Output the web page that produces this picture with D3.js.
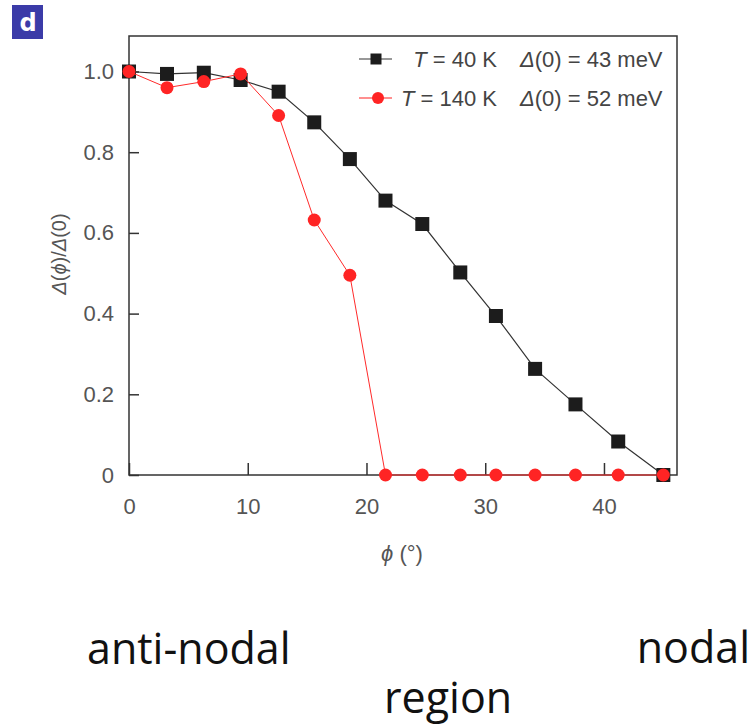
<!DOCTYPE html>
<html>
<head>
<meta charset="utf-8">
<script src="https://cdn.jsdelivr.net/npm/d3@7"></script>
<style>
  body { margin: 0; background: #fff; }
  text { font-family: "Liberation Sans", Arial, sans-serif; }
</style>
</head>
<body>
<div id="graf"></div>
<script>
// Datos
var phi = [0, 3.2, 6.3, 9.4, 12.6, 15.6, 18.6, 21.6, 24.7, 27.9, 30.9, 34.2, 37.6, 41.2, 45];
var gap40 = [1.0, 0.994, 0.997, 0.979, 0.950, 0.874, 0.783, 0.680, 0.622, 0.502, 0.394, 0.263, 0.175, 0.083, 0.0];
var gap140 = [1.0, 0.960, 0.975, 0.994, 0.891, 0.632, 0.495, 0, 0, 0, 0, 0, 0, 0, 0];
var xTicks = [0, 10, 20, 30, 40];
var yTicks = [0, 0.2, 0.4, 0.6, 0.8, 1.0];
var seriesT = ["40 K", "140 K"];
var seriesGap = ["43 meV", "52 meV"];

var ancho_total = 755, alto_total = 728;
var margins = { top: 36, left: 129, right: 78, bottom: 253 };
var ancho = ancho_total - margins.left - margins.right;
var alto = alto_total - margins.top - margins.bottom;

var svg = d3.select("#graf").append("svg")
  .attr("width", ancho_total)
  .attr("height", alto_total);

// etiqueta del panel
svg.append("rect")
  .attr("x", 12).attr("y", 5).attr("width", 31).attr("height", 34)
  .attr("fill", "#3b3ba8");
svg.append("text")
  .attr("x", 28).attr("y", 31)
  .attr("text-anchor", "middle")
  .attr("fill", "#fff")
  .style("font-family", "DejaVu Sans")
  .style("font-weight", "bold")
  .style("font-size", "24px")
  .text("d");

var g = svg.append("g")
  .attr("transform", `translate(${margins.left}, ${margins.top})`);

// Escaladores
var x = d3.scaleLinear().domain([0, 46.15]).range([0, ancho]);
var y = d3.scaleLinear().domain([0, 1.088]).range([alto, 0]);

// Ejes
var fmtY = (d) => (d === 0 ? "0" : d3.format(".1f")(d));
var yAxis = g.append("g")
  .call(d3.axisLeft(y).tickValues(yTicks).tickFormat(fmtY)
    .tickSizeInner(-10).tickSizeOuter(0).tickPadding(15));
var xAxis = g.append("g")
  .attr("transform", `translate(0, ${alto})`)
  .call(d3.axisBottom(x).tickValues(xTicks).tickFormat(d3.format("d"))
    .tickSizeInner(-12).tickSizeOuter(0).tickPadding(23));

[xAxis, yAxis].forEach((a) => {
  a.select(".domain").remove();
  a.selectAll("line").attr("stroke", "#333").attr("stroke-width", 1.5);
  a.selectAll("text")
    .attr("fill", "#555")
    .style("font-size", "22px");
});

// marco
g.append("rect")
  .attr("width", ancho).attr("height", alto)
  .attr("fill", "none")
  .attr("stroke", "#333")
  .attr("stroke-width", 1.5);

// titulos de ejes
var yt = svg.append("text")
  .attr("transform", "translate(66, 254) rotate(-90)")
  .attr("text-anchor", "middle")
  .attr("fill", "#555")
  .style("font-size", "20px");
yt.append("tspan").style("font-style", "italic").text("\u0394");
yt.append("tspan").text("(");
yt.append("tspan").style("font-style", "italic").text("\u03d5");
yt.append("tspan").text(")/");
yt.append("tspan").style("font-style", "italic").text("\u0394");
yt.append("tspan").text("(0)");

var xt = svg.append("text")
  .attr("x", 402).attr("y", 561)
  .attr("text-anchor", "middle")
  .attr("fill", "#555")
  .style("font-size", "22px");
xt.append("tspan").style("font-style", "italic").text("\u03d5");
xt.append("tspan").text(" (\u00b0)");

// Generador de lineas
var lineaGen = (vals) => d3.line()
  .x((d, i) => x(phi[i]))
  .y((d) => y(d))(vals);

g.append("path")
  .attr("d", lineaGen(gap40))
  .attr("fill", "none")
  .attr("stroke", "#333")
  .attr("stroke-width", 1.2);

g.selectAll(".sq")
  .data(gap40)
  .enter().append("path")
  .attr("class", "sq")
  .attr("transform", (d, i) => `translate(${x(phi[i])}, ${y(d)})`)
  .attr("d", d3.symbol(d3.symbolSquare, 196))
  .attr("fill", "#1c1c1c");

g.append("path")
  .attr("d", lineaGen(gap140))
  .attr("fill", "none")
  .attr("stroke", "#ff2a2a")
  .attr("stroke-width", 1);

g.selectAll(".dot")
  .data(gap140)
  .enter().append("circle")
  .attr("class", "dot")
  .attr("cx", (d, i) => x(phi[i]))
  .attr("cy", (d) => y(d))
  .attr("r", 6.5)
  .attr("fill", "#ff2424");

// Leyenda
var legColors = ["#333", "#ff2020"];
var legY = [59, 98];
seriesT.forEach((t, i) => {
  var row = svg.append("g").attr("transform", `translate(0, ${legY[i]})`);
  row.append("line")
    .attr("x1", 359).attr("x2", 392)
    .attr("stroke", legColors[i])
    .attr("stroke-width", 1.2);
  if (i === 0) {
    row.append("path")
      .attr("transform", "translate(376, 0)")
      .attr("d", d3.symbol(d3.symbolSquare, 121))
      .attr("fill", "#1c1c1c");
  } else {
    row.append("circle").attr("cx", 378).attr("r", 6).attr("fill", "#ff2424");
  }
  var t1 = row.append("text")
    .attr("x", 497).attr("y", 8)
    .attr("text-anchor", "end")
    .attr("fill", "#444")
    .style("font-size", "22px");
  t1.append("tspan").style("font-style", "italic").text("T");
  t1.append("tspan").text(" = " + t);
  var t2 = row.append("text")
    .attr("x", 520).attr("y", 8)
    .attr("fill", "#444")
    .style("font-size", "22px");
  t2.append("tspan").style("font-style", "italic").text("\u0394");
  t2.append("tspan").text("(0) = " + seriesGap[i]);
});

// textos inferiores
var notas = svg.append("g")
  .attr("fill", "#111")
  .style("font-size", "43px");
notas.append("text").attr("x", 87).attr("y", 664).style("font-family", "'Open Sans'").text("anti-nodal");
notas.append("text").attr("x", 750).attr("y", 663).attr("text-anchor", "end").style("font-family", "'Open Sans'").text("nodal");
notas.append("text").attr("x", 384).attr("y", 713).style("font-family", "'Open Sans'").text("region");
</script>
</body>
</html>
